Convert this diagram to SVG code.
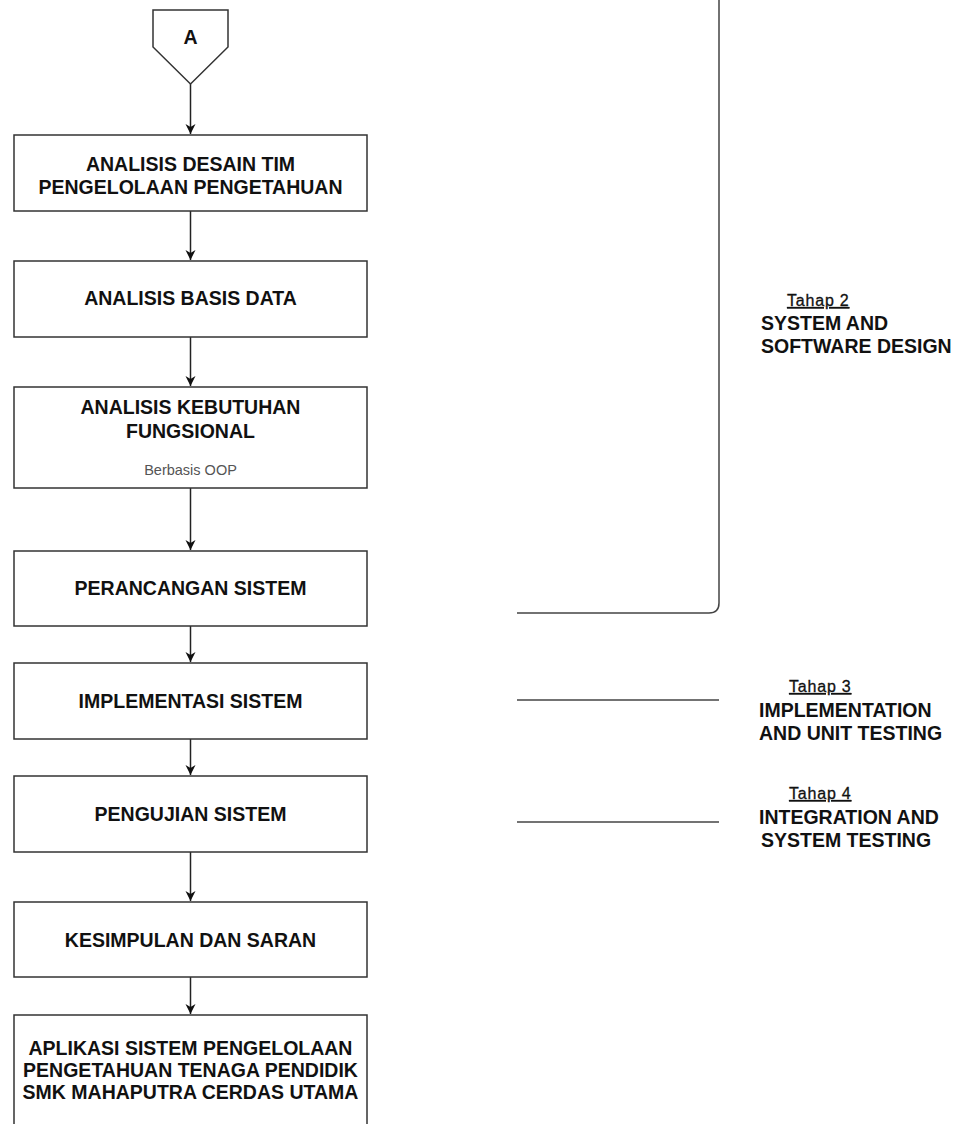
<svg xmlns="http://www.w3.org/2000/svg" width="965" height="1124" viewBox="0 0 965 1124">
<style>
  .box { fill: #ffffff; stroke: #333333; stroke-width: 1.5; }
  .conn { fill: none; stroke: #222222; stroke-width: 1.5; }
  .side { fill: none; stroke: #444444; stroke-width: 1.5; }
  .t { font-family: "Liberation Sans", Arial, sans-serif; font-weight: bold; font-size: 19.5px; fill: #111111; text-anchor: middle; }
  .sub { font-family: "Liberation Sans", Arial, sans-serif; font-size: 14.5px; fill: #555555; text-anchor: middle; }
  .lbl { font-family: "Liberation Sans", Arial, sans-serif; font-weight: bold; font-size: 19.5px; fill: #111111; }
  .tahap { font-family: "Liberation Sans", Arial, sans-serif; font-size: 16px; letter-spacing: 0.8px; fill: #111111; stroke: #111111; stroke-width: 0.3; text-decoration: underline; }
</style>
<defs>
  <marker id="arr" markerUnits="userSpaceOnUse" markerWidth="12" markerHeight="12" refX="10" refY="5" orient="auto">
    <path d="M0,0 L10,5 L0,10 L3,5 z" fill="#111111"/>
  </marker>
</defs>
<rect width="965" height="1124" fill="#ffffff"/>

<g id="connectors">
  <path class="conn" d="M190.5,84 V134" marker-end="url(#arr)"/>
  <path class="conn" d="M190.5,211 V260" marker-end="url(#arr)"/>
  <path class="conn" d="M190.5,337 V386" marker-end="url(#arr)"/>
  <path class="conn" d="M190.5,488 V550" marker-end="url(#arr)"/>
  <path class="conn" d="M190.5,626 V662" marker-end="url(#arr)"/>
  <path class="conn" d="M190.5,739 V775" marker-end="url(#arr)"/>
  <path class="conn" d="M190.5,852 V901" marker-end="url(#arr)"/>
  <path class="conn" d="M190.5,977 V1014" marker-end="url(#arr)"/>
  <path class="side" d="M719,0 V603 Q719,613 709,613 H517"/>
  <path class="side" d="M517,700 H719"/>
  <path class="side" d="M517,822 H719"/>
</g>

<g id="node-A">
  <polygon class="box" points="153,10 228,10 228,47 190.5,84 153,47"/>
  <text class="t" x="190.5" y="44">A</text>
</g>

<g id="node-analisis-desain">
  <rect class="box" x="14" y="135" width="353" height="76"/>
  <text class="t" x="190.5" y="171">ANALISIS DESAIN TIM</text>
  <text class="t" x="190.5" y="194">PENGELOLAAN PENGETAHUAN</text>
</g>

<g id="node-basis-data">
  <rect class="box" x="14" y="261" width="353" height="76"/>
  <text class="t" x="190.5" y="305">ANALISIS BASIS DATA</text>
</g>

<g id="node-kebutuhan">
  <rect class="box" x="14" y="387" width="353" height="101"/>
  <text class="t" x="190.5" y="414">ANALISIS KEBUTUHAN</text>
  <text class="t" x="190.5" y="438">FUNGSIONAL</text>
  <text class="sub" x="190.5" y="475">Berbasis OOP</text>
</g>

<g id="node-perancangan">
  <rect class="box" x="14" y="551" width="353" height="75"/>
  <text class="t" x="190.5" y="595">PERANCANGAN SISTEM</text>
</g>

<g id="node-implementasi">
  <rect class="box" x="14" y="663" width="353" height="76"/>
  <text class="t" x="190.5" y="708">IMPLEMENTASI SISTEM</text>
</g>

<g id="node-pengujian">
  <rect class="box" x="14" y="776" width="353" height="76"/>
  <text class="t" x="190.5" y="821">PENGUJIAN SISTEM</text>
</g>

<g id="node-kesimpulan">
  <rect class="box" x="14" y="902" width="353" height="75"/>
  <text class="t" x="190.5" y="947">KESIMPULAN DAN SARAN</text>
</g>

<g id="node-aplikasi">
  <rect class="box" x="14" y="1015" width="353" height="125"/>
  <text class="t" x="190.5" y="1055">APLIKASI SISTEM PENGELOLAAN</text>
  <text class="t" x="190.5" y="1077">PENGETAHUAN TENAGA PENDIDIK</text>
  <text class="t" x="190.5" y="1099">SMK MAHAPUTRA CERDAS UTAMA</text>
</g>

<g id="label-tahap2">
  <text class="tahap" x="787" y="306">Tahap 2</text>
  <text class="lbl" x="761" y="330">SYSTEM AND</text>
  <text class="lbl" x="761" y="353">SOFTWARE DESIGN</text>
</g>

<g id="label-tahap3">
  <text class="tahap" x="789" y="692">Tahap 3</text>
  <text class="lbl" x="759" y="717">IMPLEMENTATION</text>
  <text class="lbl" x="759" y="740">AND UNIT TESTING</text>
</g>

<g id="label-tahap4">
  <text class="tahap" x="789" y="799">Tahap 4</text>
  <text class="lbl" x="759" y="824">INTEGRATION AND</text>
  <text class="lbl" x="761" y="847">SYSTEM TESTING</text>
</g>
</svg>
